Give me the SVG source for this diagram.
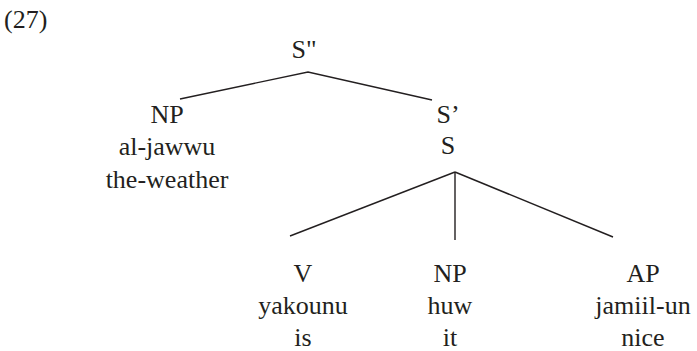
<svg xmlns="http://www.w3.org/2000/svg" width="697" height="351" viewBox="0 0 697 351">
<style>
text{font-family:"Liberation Serif","Times New Roman",serif;font-size:26px;fill:#231f20;text-anchor:middle}
.edge{stroke:#231f20;stroke-width:1.4;fill:none}
</style>
<rect width="697" height="351" fill="#fff"/>
<text x="4" y="28" style="text-anchor:start">(27)</text>
<g id="edges">
<polyline class="edge" points="180,99 308,72 432,100"/>
<line class="edge" x1="455" y1="172" x2="290" y2="236"/>
<line class="edge" x1="455" y1="172" x2="455" y2="240"/>
<line class="edge" x1="455" y1="172" x2="613" y2="237"/>
</g>
<g id="n-S2"><text x="304" y="58">S"</text></g>
<g id="n-NP1"><text x="167" y="123">NP</text><text x="167" y="155">al-jawwu</text><text x="167" y="188">the-weather</text></g>
<g id="n-S1"><text x="448" y="123">S’</text><text x="448" y="154">S</text></g>
<g id="n-V"><text x="303" y="282">V</text><text x="303" y="314">yakounu</text><text x="303" y="346">is</text></g>
<g id="n-NP2"><text x="450" y="282">NP</text><text x="450" y="314">huw</text><text x="450" y="346">it</text></g>
<g id="n-AP"><text x="643" y="282">AP</text><text x="643" y="314">jamiil-un</text><text x="643" y="346">nice</text></g>
</svg>
